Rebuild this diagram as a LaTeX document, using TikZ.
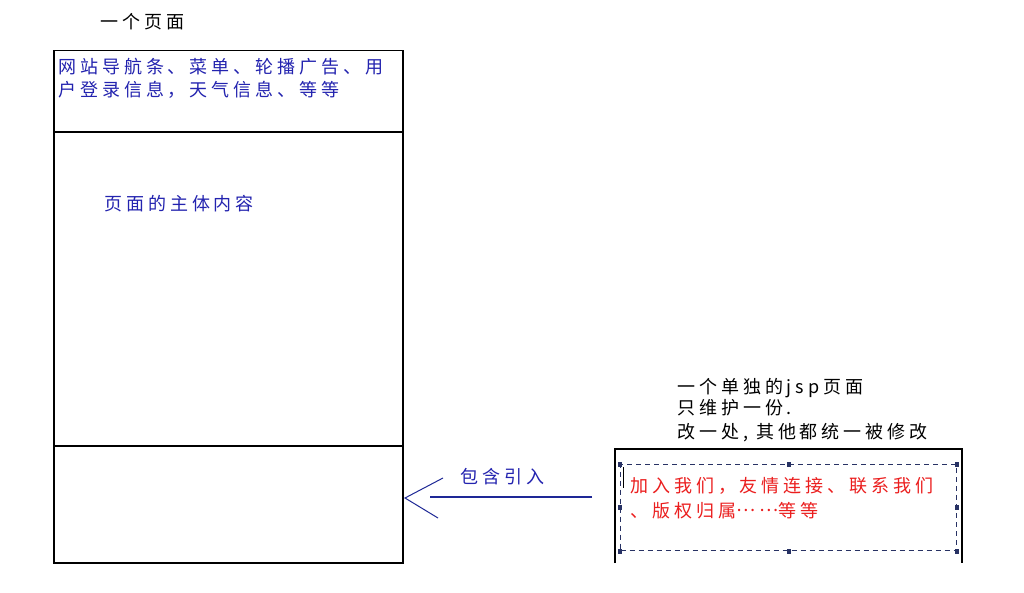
\documentclass[tikz,border=0pt]{standalone}
\usepackage{fontspec}
\newfontfamily\cjk{Noto Sans CJK SC}[LetterSpace=22]
\newcommand{\dotsmid}{\raisebox{0.3em}{……}}
\definecolor{txtblue}{RGB}{35,35,175}
\definecolor{arrblue}{RGB}{30,40,150}
\definecolor{dashnavy}{RGB}{40,50,100}
\definecolor{txtred}{RGB}{235,30,30}
\begin{document}
\begin{tikzpicture}[x=1pt,y=-1pt,
  lbl/.style={anchor=base west,inner sep=0pt,font=\cjk\fontsize{18}{22}\selectfont},
  boxline/.style={draw=black,line width=1.5pt},
  handle/.style={fill=dashnavy,minimum width=4pt,minimum height=5pt,inner sep=0pt}]
\useasboundingbox[fill=white] (0,0) rectangle (1024,593);
% left page box
\node[boxline,minimum width=349pt,minimum height=512pt,anchor=north west,inner sep=0pt] (page) at (53,50) {};
\draw[boxline] (53,132) -- (403,132);
\draw[boxline] (53,446) -- (404,446);
\node[lbl] (t1) at (100,29) {一个页面};
\node[lbl,text=txtblue] (nav1) at (58,74) {网站导航条、菜单、轮播广告、用};
\node[lbl,text=txtblue] (nav2) at (58,97) {户登录信息，天气信息、等等};
\node[lbl,text=txtblue] (body) at (104,211) {页面的主体内容};
% right box (open at bottom)
\coordinate (rb1) at (615,563);
\coordinate (rb2) at (962,563);
\draw[boxline] (rb1) -- (615,449) -- (962,449) -- (rb2);
\node[lbl] (r1) at (677,393) {一个单独的jsp页面};
\node[lbl] (r2) at (677,414) {只维护一份.};
\node[lbl] (r3) at (677,438) {改一处, 其他都统一被修改};
% dashed selection box
\node[draw=dashnavy,line width=1pt,dash pattern=on 5pt off 4pt,minimum width=336pt,minimum height=86pt,anchor=north west,inner sep=0pt] (inc) at (620,464) {};
\foreach \a in {north west,north,north east,west,east,south west,south,south east}
  \node[handle] at (inc.\a) {};
\draw[black,line width=1pt] (623,467) -- (623,488);
\node[lbl,text=txtred] (red1) at (630,492) {加入我们，友情连接、联系我们};
\node[lbl,text=txtred] (red2) at (630,517) {、版权归属\dotsmid 等等};
% arrow
\coordinate (as) at (592,497);
\coordinate (ae) at (430,497);
\coordinate (tip) at (405,498);
\draw[arrblue,line width=1.5pt] (as) -- (ae);
\draw[arrblue,line width=1pt] (443,478) -- (tip) -- (438,518);
\node[lbl,text=txtblue] (incl) at (460,483) {包含引入};
\end{tikzpicture}
\end{document}
